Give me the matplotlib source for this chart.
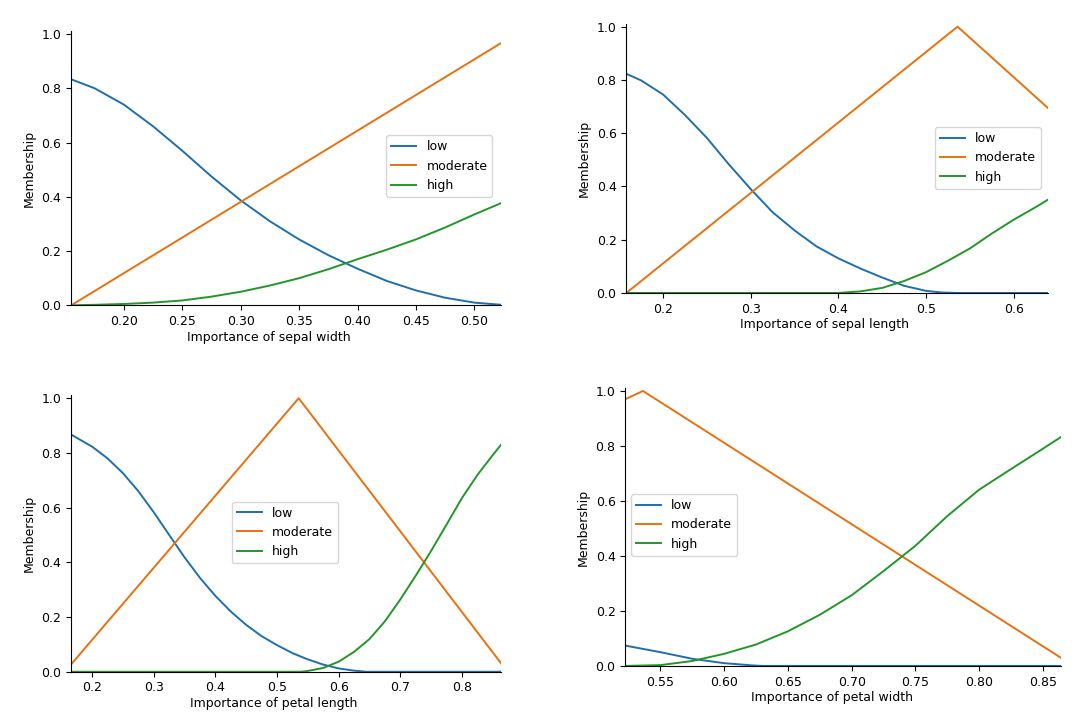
import matplotlib
matplotlib.use('Agg')
import matplotlib.pyplot as plt

# colours of the three membership terms
c_low = '#1f6fad'
c_mod = '#e8710f'
c_high = '#23962a'

# sepal width
sw_x_range = [0.155, 0.523]
sw_x = [0.155, 0.175, 0.20, 0.225, 0.25, 0.275, 0.30, 0.325, 0.35, 0.375,
        0.40, 0.425, 0.45, 0.475, 0.50, 0.523]
sw_low = [0.833, 0.80, 0.74, 0.66, 0.57, 0.475, 0.387, 0.31, 0.243, 0.185,
          0.135, 0.09, 0.055, 0.028, 0.01, 0.002]
sw_mod_x = [0.155, 0.523]
sw_mod = [0.0, 0.967]
sw_high = [0.0, 0.002, 0.005, 0.01, 0.018, 0.032, 0.05, 0.073, 0.10, 0.133,
           0.17, 0.205, 0.243, 0.287, 0.335, 0.377]
sw_ticks = [0.20, 0.25, 0.30, 0.35, 0.40, 0.45, 0.50]

# sepal length
sl_x_range = [0.158, 0.639]
sl_low_x = [0.158, 0.175, 0.20, 0.225, 0.25, 0.275, 0.30, 0.325, 0.35, 0.375,
            0.40, 0.425, 0.45, 0.475, 0.50, 0.517, 0.536, 0.639]
sl_low = [0.823, 0.798, 0.745, 0.668, 0.582, 0.483, 0.39, 0.303, 0.235, 0.175,
          0.13, 0.092, 0.058, 0.027, 0.008, 0.002, 0.0, 0.0]
sl_mod_x = [0.158, 0.536, 0.639]
sl_mod = [0.0, 1.0, 0.695]
sl_high_x = [0.158, 0.40, 0.425, 0.45, 0.475, 0.50, 0.525, 0.55, 0.575, 0.60,
             0.625, 0.639]
sl_high = [0.0, 0.0, 0.006, 0.019, 0.045, 0.078, 0.121, 0.167, 0.223, 0.275,
           0.322, 0.35]
sl_ticks = [0.2, 0.3, 0.4, 0.5, 0.6]

# petal length
pl_x_range = [0.166, 0.8635]
pl_low_x = [0.166, 0.20, 0.225, 0.25, 0.275, 0.30, 0.325, 0.35, 0.375, 0.40,
            0.425, 0.45, 0.475, 0.50, 0.525, 0.55, 0.575, 0.60, 0.625, 0.645,
            0.8635]
pl_low = [0.867, 0.823, 0.78, 0.726, 0.66, 0.583, 0.50, 0.418, 0.343, 0.277,
          0.22, 0.171, 0.13, 0.097, 0.068, 0.045, 0.026, 0.012, 0.004, 0.0,
          0.0]
pl_mod_x = [0.166, 0.535, 0.8635]
pl_mod = [0.027, 1.0, 0.03]
pl_high_x = [0.166, 0.539, 0.55, 0.575, 0.60, 0.625, 0.65, 0.675, 0.70,
             0.725, 0.75, 0.775, 0.80, 0.825, 0.85, 0.8635]
pl_high = [0.0, 0.0, 0.003, 0.014, 0.037, 0.073, 0.12, 0.185, 0.265, 0.352,
           0.443, 0.539, 0.636, 0.72, 0.793, 0.831]
pl_ticks = [0.2, 0.3, 0.4, 0.5, 0.6, 0.7, 0.8]

# petal width
pw_x_range = [0.5224, 0.864]
pw_low_x = [0.5224, 0.55, 0.575, 0.60, 0.622, 0.63, 0.864]
pw_low = [0.074, 0.05, 0.026, 0.01, 0.002, 0.0, 0.0]
pw_mod_x = [0.5224, 0.5363, 0.864]
pw_mod = [0.970, 1.0, 0.030]
pw_high_x = [0.5224, 0.55, 0.575, 0.60, 0.625, 0.65, 0.675, 0.70, 0.725,
             0.75, 0.775, 0.80, 0.825, 0.85, 0.864]
pw_high = [0.0, 0.003, 0.018, 0.044, 0.078, 0.126, 0.186, 0.257, 0.345,
           0.437, 0.545, 0.641, 0.716, 0.79, 0.832]
pw_ticks = [0.55, 0.60, 0.65, 0.70, 0.75, 0.80, 0.85]

fig = plt.figure(figsize=(10.78, 7.27), dpi=100)

# axes rect, x range, curves, ticks, tick format, xlabel, xlabel x pos, legend anchor
panels = [
    ([0.066, 0.580, 0.399, 0.377], sw_x_range, (sw_x, sw_low), (sw_mod_x, sw_mod),
     (sw_x, sw_high), sw_ticks, '%.2f', 'Importance of sepal width', 0.46, (0.733, 0.620)),
    ([0.581, 0.597, 0.391, 0.370], sl_x_range, (sl_low_x, sl_low), (sl_mod_x, sl_mod),
     (sl_high_x, sl_high), sl_ticks, '%.1f', 'Importance of sepal length', 0.47, (0.732, 0.617)),
    ([0.066, 0.076, 0.399, 0.380], pl_x_range, (pl_low_x, pl_low), (pl_mod_x, pl_mod),
     (pl_high_x, pl_high), pl_ticks, '%.1f', 'Importance of petal length', 0.47, (0.374, 0.616)),
    ([0.580, 0.084, 0.404, 0.382], pw_x_range, (pw_low_x, pw_low), (pw_mod_x, pw_mod),
     (pw_high_x, pw_high), pw_ticks, '%.2f', 'Importance of petal width', 0.474, (0.014, 0.619)),
]

for rect, xr, low, mod, high, ticks, fmt, xlabel, lx, leg in panels:
    ax = fig.add_axes(rect)
    ax.plot(low[0], low[1], color=c_low, lw=1.4, label='low')
    ax.plot(mod[0], mod[1], color=c_mod, lw=1.4, label='moderate')
    ax.plot(high[0], high[1], color=c_high, lw=1.4, label='high')
    ax.set_xlim(xr[0], xr[1])
    ax.set_ylim(0, 1.01)
    ax.set_xticks(ticks)
    ax.set_xticklabels([fmt % t for t in ticks])
    ax.set_yticks([0.0, 0.2, 0.4, 0.6, 0.8, 1.0])
    ax.set_yticklabels(['0.0', '0.2', '0.4', '0.6', '0.8', '1.0'])
    ax.tick_params(labelsize=9)
    ax.set_ylabel('Membership', fontsize=9)
    ax.set_xlabel(xlabel, fontsize=9, labelpad=2, x=lx)
    ax.spines['top'].set_visible(False)
    ax.spines['right'].set_visible(False)
    ax.legend(loc='upper left', bbox_to_anchor=leg, borderaxespad=0, fontsize=9)

plt.savefig('out.png', dpi=100)
